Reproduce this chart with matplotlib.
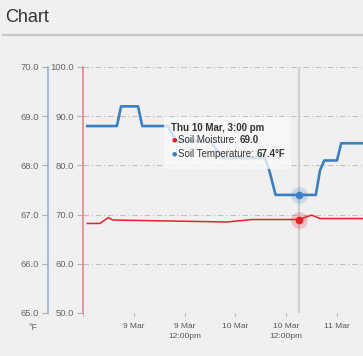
import pandas as pd
import matplotlib
matplotlib.use("Agg")
from matplotlib import pyplot as plt
import matplotlib.dates as mdates
from matplotlib.patches import Rectangle
from matplotlib.text import Annotation
from matplotlib.transforms import IdentityTransform

plt.rcParams['font.family'] = ['Liberation Sans', 'DejaVu Sans']

# soil temperature (left outer axis, degF)
temp_times = ["2016-03-08 13:00", "2016-03-08 20:00", "2016-03-08 21:00", "2016-03-09 01:00",
              "2016-03-09 02:00", "2016-03-09 08:00", "2016-03-09 10:00", "2016-03-09 18:00",
              "2016-03-09 21:00", "2016-03-10 07:00", "2016-03-10 08:00", "2016-03-10 09:30",
              "2016-03-10 19:00", "2016-03-10 20:00", "2016-03-10 21:00", "2016-03-11 00:00",
              "2016-03-11 01:00", "2016-03-11 06:00"]
temp_vals = [68.8, 68.8, 69.2, 69.2, 68.8, 68.8, 68.5, 68.5, 68.15, 68.15, 67.9, 67.4,
             67.4, 67.9, 68.1, 68.1, 68.45, 68.45]

# soil moisture (inner axis)
moist_times = ["2016-03-08 13:00", "2016-03-08 16:00", "2016-03-08 18:00", "2016-03-08 19:00",
               "2016-03-09 22:00", "2016-03-10 04:00", "2016-03-10 15:00", "2016-03-10 18:00",
               "2016-03-10 20:00", "2016-03-11 06:00"]
moist_vals = [68.2, 68.2, 69.4, 68.9, 68.5, 69.0, 69.0, 69.9, 69.2, 69.2]

tick_times = ["2016-03-08 12:00", "2016-03-09 00:00", "2016-03-09 12:00",
              "2016-03-10 00:00", "2016-03-10 12:00", "2016-03-11 00:00"]
tick_labels = ["", "9 Mar", "9 Mar\n12:00pm", "10 Mar", "10 Mar\n12:00pm", "11 Mar"]
x_range = ["2016-03-08 12:00", "2016-03-11 06:09"]

hover_time = "2016-03-10 15:00"
hover_title = "Thu 10 Mar, 3:00 pm"
hover_moist = 69.0
hover_temp = 67.4

moist_ticks = [50, 60, 70, 80, 90, 100]
temp_ticks = [65, 66, 67, 68, 69, 70]

BG = "#f0f0f0"
BLUE = "#3a80c3"
RED = "#e8202a"

def num(t):
    return mdates.date2num(pd.to_datetime(t))

fig = plt.figure(figsize=(3.63, 3.56), dpi=100, facecolor=BG)
W, H = 363, 356

# header
fig.text(5 / W, 1 - 18 / H, "Chart", fontsize=13, color="#333333", va="center")
fig.add_artist(plt.Line2D([3 / W, 1], [1 - 35 / H, 1 - 35 / H], color="#c8c8c8", lw=1.6))

ax = fig.add_axes([83 / W, 1 - 313 / H, 280 / W, 246 / H])
ax.set_facecolor(BG)
ax2 = ax.twinx()
ax2.patch.set_visible(False)

ax.set_xlim(num(x_range[0]), num(x_range[1]))
ax.set_ylim(50, 100)
ax2.set_ylim(65, 70)

for a in (ax, ax2):
    for s in a.spines.values():
        s.set_visible(False)

ax.spines['left'].set_visible(True)
ax.spines['left'].set_color("#e08888")
ax.spines['left'].set_linewidth(1.2)

ax2.yaxis.set_ticks_position('left')
ax2.spines['left'].set_visible(True)
ax2.spines['left'].set_position(('outward', 35 * 0.72))
ax2.spines['left'].set_color("#8fb3dc")
ax2.spines['left'].set_linewidth(1.2)

ax.set_yticks(moist_ticks)
ax.set_yticklabels([f"{v:.1f}" for v in moist_ticks])
ax2.set_yticks(temp_ticks)
ax2.set_yticklabels([f"{v:.1f}" for v in temp_ticks])
for a in (ax, ax2):
    a.tick_params(axis='y', length=4.3, width=0.8, color="#b0b0b0", pad=2.5,
                  labelsize=6.8, labelcolor="#6a6460")

ax.yaxis.grid(True, color="#c0c0c0", linestyle=(0, (5, 2.5, 1, 2.5)), lw=0.8)
ax.set_axisbelow(True)

ax.set_xticks([num(t) for t in tick_times])
ax.set_xticklabels(tick_labels)
ax.tick_params(axis='x', length=2, width=0.8, color="#b0b0b0", pad=5,
               labelsize=6, labelcolor="#555555")
for t in ax.get_xticklabels():
    t.set_linespacing(1.7)

ax.annotate("°F", xy=(0, 0), xycoords='axes fraction', xytext=(-50, -14),
            textcoords='offset pixels', ha='center', va='center', fontsize=6.5, color="#6a6460")

# crosshair
hx = num(hover_time)
ax.axvline(hx, color="#cfcfcf", lw=1.6, zorder=1)

ax.plot([num(t) for t in moist_times], moist_vals, color=RED, lw=1.1, zorder=3)
ax2.plot([num(t) for t in temp_times], temp_vals, color=BLUE, lw=1.9, zorder=3)

ax.plot(hx, hover_moist, 'o', ms=12, color=RED, alpha=0.22, mec='none', zorder=4)
ax.plot(hx, hover_moist, 'o', ms=5.5, color=RED, mec='none', zorder=5)
ax2.plot(hx, hover_temp, 'o', ms=12, color=BLUE, alpha=0.22, mec='none', zorder=4)
ax2.plot(hx, hover_temp, 'o', ms=5.5, color=BLUE, mec='none', zorder=5)

# tooltip, placed relative to the hovered temperature point
px, py = ax2.transData.transform((hx, hover_temp))
ident = IdentityTransform()
fig.add_artist(Rectangle((px - 135, py + 26), 127, 52, transform=ident,
                         facecolor=(0.975, 0.975, 0.975, 0.8), edgecolor="none"))
fig.text(px - 128, py + 67, hover_title, transform=ident, fontsize=7, fontweight='bold',
         color="#333333", va='center')

rows = [(RED, "Soil Moisture: ", f"{hover_moist:.1f}", py + 55),
        (BLUE, "Soil Temperature: ", f"{hover_temp:.1f}°F", py + 41)]
for col, lab, val, yy in rows:
    fig.text(px - 127, yy, "●", transform=ident, fontsize=4.5, color=col,
             va='center', ha='left', family='DejaVu Sans')
    t1 = fig.text(px - 121, yy, lab, transform=ident, fontsize=7, color="#333333", va='center')
    fig.add_artist(Annotation(val, xy=(1, 0.5), xycoords=t1, va='center', ha='left',
                              fontsize=7, fontweight='bold', color="#333333",
                              annotation_clip=False))

fig.savefig("out.png", dpi=100, facecolor=BG)
